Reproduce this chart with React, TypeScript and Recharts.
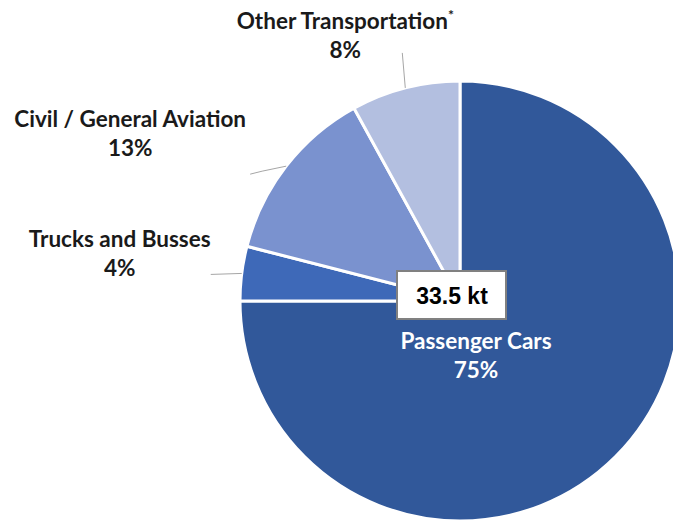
import { Cell, Pie, PieChart } from 'recharts'

const categories = ['Passenger Cars', 'Trucks and Busses', 'Civil / General Aviation', 'Other Transportation']
const shares = [75, 4, 13, 8]
const sliceColors = ['#31589a', '#3e69b8', '#7a92cf', '#b3bfe0']
const totalLabel = '33.5 kt'

const data = categories.map((name, i) => ({ name, value: shares[i] }))

const RAD = Math.PI / 180

// where each label sits, relative to the point on the rim at the slice middle
const placement: Record<string, { line: number[][]; tx: number; ty: number }> = {
  'Other Transportation': { line: [[-3, -35]], tx: -60, ty: -59 },
  'Civil / General Aviation': { line: [[-24, 5], [-36, 8]], tx: -156, ty: -39 },
  'Trucks and Busses': { line: [[-31, 1]], tx: -122, ty: -26 },
}

const labelFont = { fontFamily: 'Lato', fontWeight: 700, fontSize: 22.5 }

function renderLabel(props: any) {
  const { cx, cy, midAngle, outerRadius, name, value } = props
  const ex = cx + outerRadius * Math.cos(-midAngle * RAD)
  const ey = cy + outerRadius * Math.sin(-midAngle * RAD)

  if (name === 'Passenger Cars') {
    return (
      <g>
        <text x={cx + 16} y={cy + 48} textAnchor="middle" fill="#fff" {...labelFont}>
          {name}
        </text>
        <text x={cx + 16} y={cy + 77} textAnchor="middle" fill="#fff" {...labelFont}>
          {value}%
        </text>
        <rect x={cx - 63} y={cy - 30} width={109} height={48} fill="#fff" stroke="#808080" strokeWidth={2} />
        <text
          x={cx - 8}
          y={cy + 3}
          textAnchor="middle"
          fill="#000"
          fontFamily="Liberation Sans"
          fontWeight={700}
          fontSize={23}
        >
          {totalLabel}
        </text>
      </g>
    )
  }

  const p = placement[name]
  const pts = [[ex, ey], ...p.line.map(([dx, dy]) => [ex + dx, ey + dy])]
  return (
    <g>
      <polyline points={pts.map((q) => q.join(',')).join(' ')} fill="none" stroke="#a6a6a6" strokeWidth={1} />
      <text x={ex + p.tx} y={ey + p.ty} textAnchor="middle" fill="#1a1a1a" {...labelFont}>
        {name}
        {name === 'Other Transportation' && (
          <tspan fontSize={14} dy={-9}>
            *
          </tspan>
        )}
      </text>
      <text x={ex + p.tx} y={ey + p.ty + 29} textAnchor="middle" fill="#1a1a1a" {...labelFont}>
        {value}%
      </text>
    </g>
  )
}

export default function App() {
  return (
    <div style={{ position: 'absolute', left: 0, top: 0, width: 673, height: 522, background: '#fff' }}>
      <PieChart width={673} height={522} margin={{ top: 0, right: 0, bottom: 0, left: 0 }}>
        <Pie
          data={data}
          dataKey="value"
          nameKey="name"
          cx={460}
          cy={301}
          outerRadius={220}
          startAngle={90}
          endAngle={-270}
          stroke="#fff"
          strokeWidth={3}
          labelLine={false}
          label={renderLabel}
          isAnimationActive={false}
        >
          {data.map((d, i) => (
            <Cell key={d.name} fill={sliceColors[i]} />
          ))}
        </Pie>
      </PieChart>
    </div>
  )
}
